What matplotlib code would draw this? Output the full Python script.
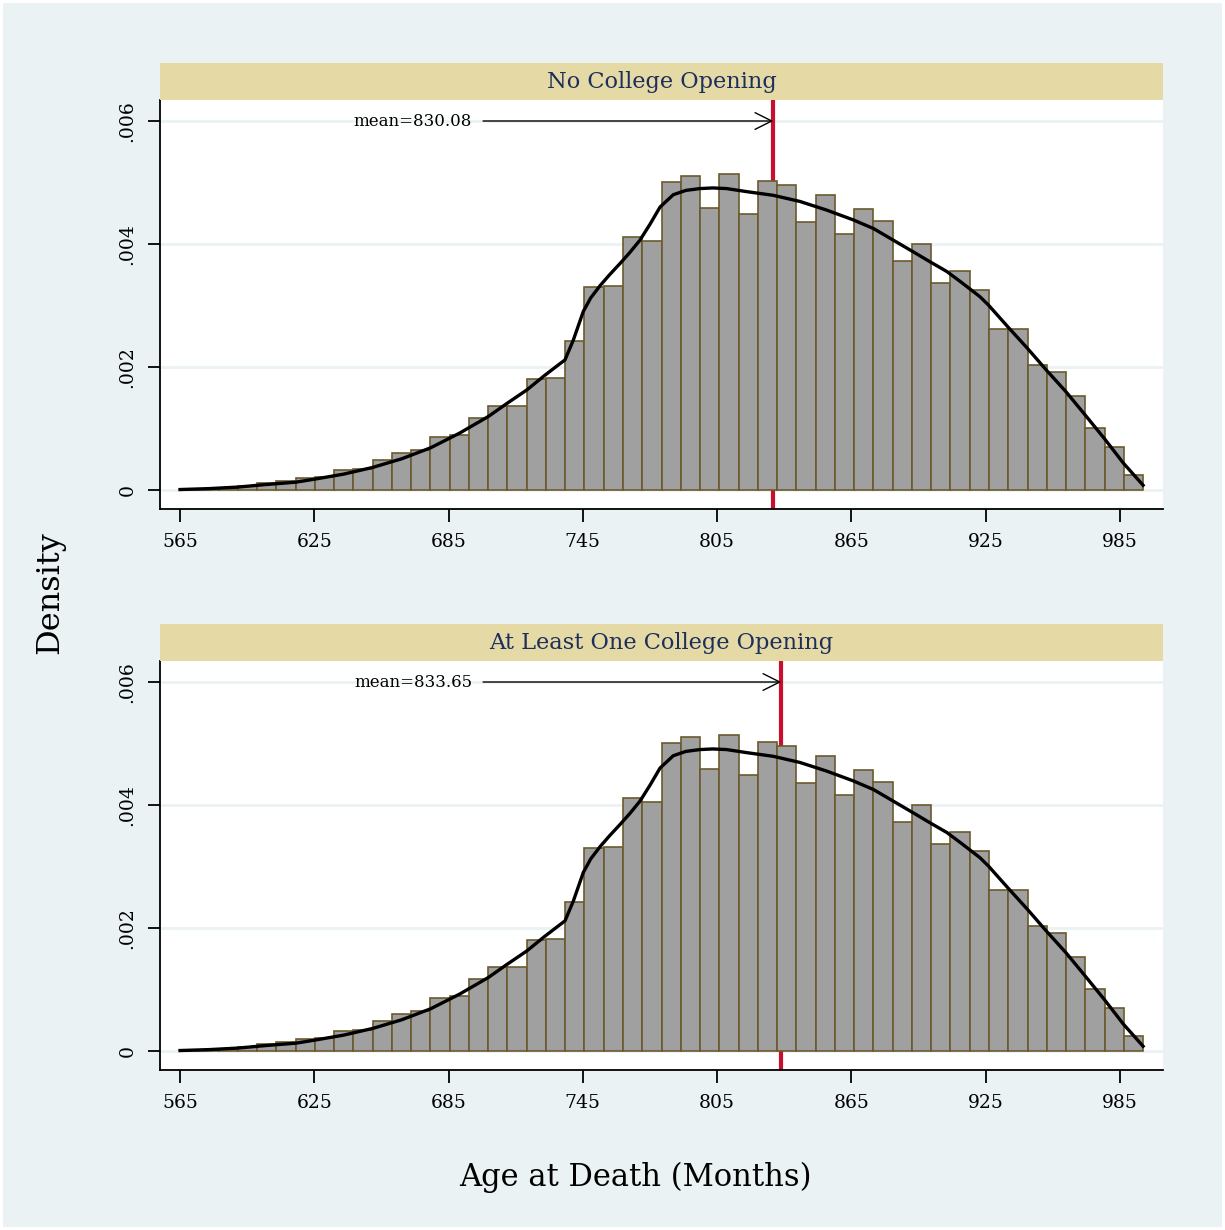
import matplotlib
matplotlib.use('Agg')
import matplotlib.pyplot as plt
import numpy as np
from matplotlib.patches import Rectangle

plt.rcParams['font.family'] = ['DejaVu Serif']
plt.rcParams['axes.unicode_minus'] = False

# histogram (density), 50 bins starting at 565
bin_start = 565.0
bin_width = 8.606
density = [0.00001, 0.00001, 0.00003, 0.000062, 0.00010, 0.000143, 0.00018, 0.00021, 0.00031, 0.00033,
           0.00048, 0.00059, 0.00064, 0.00086, 0.00089, 0.00116, 0.00136, 0.00136, 0.00180, 0.00182,
           0.00242, 0.00329, 0.00331, 0.00411, 0.00405, 0.00501, 0.00510, 0.00458, 0.00513, 0.00448,
           0.00503, 0.00495, 0.00436, 0.00480, 0.00416, 0.00457, 0.00438, 0.00372, 0.00400, 0.00337,
           0.00355, 0.00325, 0.00262, 0.00262, 0.00203, 0.00191, 0.00152, 0.00100, 0.00069, 0.00024]

# kernel density curve
kde_x = [565, 578, 590.9, 603, 616.8, 625.3, 638, 651.1, 664, 677.0, 690, 702.8, 711, 719.9, 728,
         734.8, 737.0, 740.7, 745.2, 748.5, 752.7, 757, 761.6, 766, 770.5, 775, 779.5, 785.4, 791,
         797.3, 803, 809.2, 818.2, 830.1, 842.0, 853.9, 865.8, 874.8, 883.7, 892.6, 900, 907.6, 913.5,
         922.4, 926.3, 935.1, 943.6, 952.2, 960.9, 969.5, 978.0, 986.5, 995.3]
kde_y = [0.0, 0.000015, 0.00004, 0.00008, 0.00012, 0.00017, 0.00025, 0.00036, 0.00050, 0.00068,
         0.00092, 0.00119, 0.00140, 0.00162, 0.00186, 0.00205, 0.00211, 0.00243, 0.00290, 0.00312,
         0.00332, 0.00350, 0.00368, 0.00386, 0.00406, 0.00432, 0.00460, 0.00480, 0.00487,
         0.00490, 0.00491, 0.00490, 0.00485, 0.00479, 0.00469, 0.00455, 0.00439, 0.00425, 0.00406,
         0.00387, 0.00371, 0.00355, 0.00339, 0.00314, 0.00300, 0.00264, 0.00230, 0.00194, 0.00159,
         0.00121, 0.00083, 0.00043, 0.00007]

panel_titles = ['No College Opening', 'At Least One College Opening']
panel_means = [830.08, 833.65]

x_ticks = [565, 625, 685, 745, 805, 865, 925, 985]
y_ticks = [0, 0.002, 0.004, 0.006]
y_tick_labels = ['0', '.002', '.004', '.006']

W, H = 1225, 1230
BG = '#EAF2F3'


def draw_panel(fig, top_px, title, mean):
    """画一个面板：标题条 + 直方图 + 密度曲线 + 均值线"""
    left = 160 / W
    width = 1003 / W
    ax = fig.add_axes([left, 1 - (top_px + 409) / H, width, 409 / H])
    strip = fig.add_axes([left, 1 - top_px / H, width, 37 / H])

    strip.set_facecolor('#E5D9A6')
    strip.set_xticks([])
    strip.set_yticks([])
    for s in strip.spines.values():
        s.set_visible(False)
    strip.text(0.5, 0.48, title, ha='center', va='center', fontsize=16.2, color='#1C2E5C')

    edges = bin_start + bin_width * np.arange(len(density) + 1)
    for yt in y_ticks:
        ax.axhline(yt, color=BG, lw=2, zorder=0)
    ax.axvline(mean, color='#C8102E', lw=3, zorder=1)  # 均值线在柱子后面
    ax.bar(edges[:-1], density, width=bin_width, align='edge', color='#A0A0A0',
           edgecolor='#6B5A2C', linewidth=1.2, zorder=2)
    ax.plot(kde_x, kde_y, color='black', lw=2.4, zorder=3)

    ax.annotate('', xy=(mean, 0.006), xytext=(700.4, 0.006),
                arrowprops=dict(arrowstyle='->', lw=1, color='black', mutation_scale=30,
                                shrinkA=0, shrinkB=0), zorder=5)
    ax.text(695.5, 0.006, 'mean=%.2f' % mean, ha='right', va='center', fontsize=12)

    ax.set_xlim(556.06, 1004.2)
    ax.set_ylim(-0.000317, 0.006342)
    ax.set_xticks(x_ticks)
    ax.set_xticklabels([str(v) for v in x_ticks], fontsize=13.5)
    ax.set_yticks(y_ticks)
    ax.set_yticklabels(y_tick_labels, fontsize=13.5, rotation=90, va='center')
    ax.tick_params(axis='both', length=9, width=1.3, direction='out', pad=8)
    ax.spines['top'].set_visible(False)
    ax.spines['right'].set_visible(False)
    ax.spines['left'].set_linewidth(1.3)
    ax.spines['bottom'].set_linewidth(1.3)
    ax.set_facecolor('white')
    return ax


if __name__ == '__main__':
    fig = plt.figure(figsize=(W / 100, H / 100), dpi=100)
    fig.patch.set_facecolor('white')
    fig.add_artist(Rectangle((3 / W, 3 / H), 1219 / W, 1224 / H, transform=fig.transFigure,
                             facecolor=BG, edgecolor='none', zorder=-10))

    draw_panel(fig, 100, panel_titles[0], panel_means[0])
    draw_panel(fig, 661, panel_titles[1], panel_means[1])

    fig.text(50 / W, 1 - 593 / H, 'Density', rotation=90, ha='center', va='center', fontsize=23)
    fig.text(635 / W, 1 - 1177 / H, 'Age at Death (Months)', ha='center', va='center', fontsize=22)

    plt.savefig('out.png', dpi=100, facecolor=fig.get_facecolor())
